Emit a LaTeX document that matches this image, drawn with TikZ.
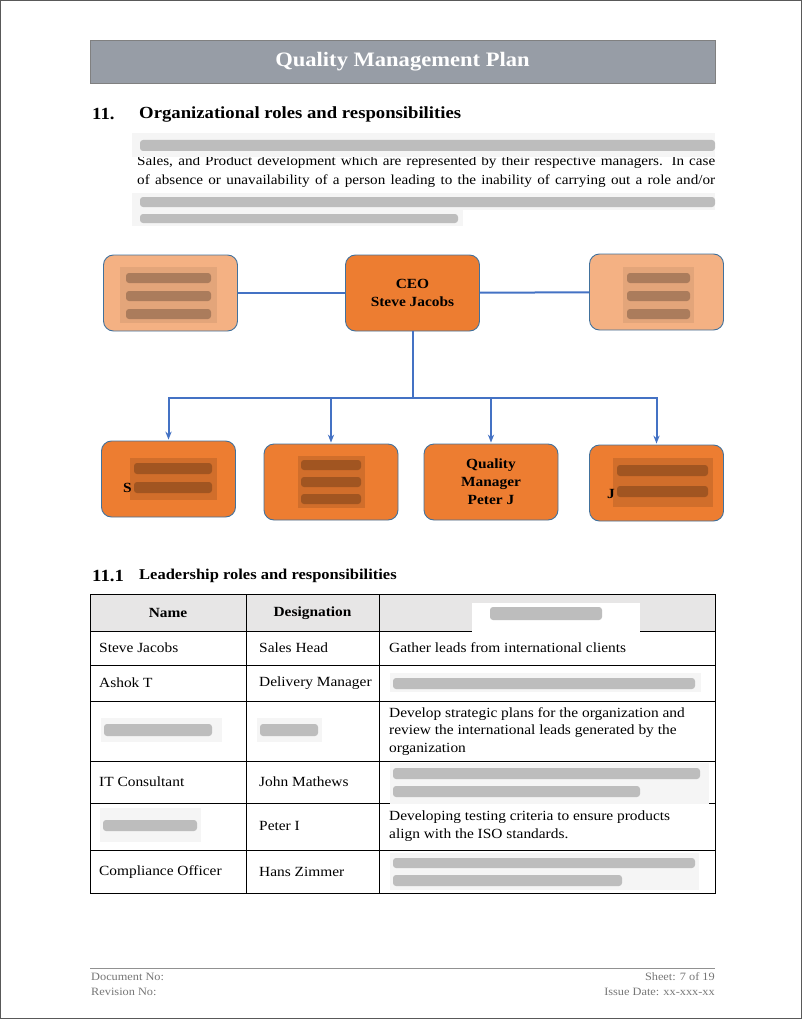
\documentclass[tikz,border=0pt]{standalone}
\usepackage{fontspec}
\setmainfont{Liberation Serif}[FakeStretch=1.1]
\usetikzlibrary{arrows.meta,positioning,calc}
\definecolor{bandgray}{RGB}{151,157,166}
\definecolor{bandedge}{RGB}{128,128,128}
\definecolor{ordark}{RGB}{237,125,49}
\definecolor{orlight}{RGB}{244,177,131}
\definecolor{boxedge}{RGB}{65,113,156}
\definecolor{linkblue}{RGB}{68,114,196}
\definecolor{thgray}{RGB}{231,230,230}
\definecolor{footgray}{RGB}{118,118,118}

\begin{document}
\begin{tikzpicture}[x=1pt, y=-1pt,
  orgbox/.style={draw=boxedge, line width=0.9pt, rounded corners=10pt, fill=#1,
                 minimum width=134pt, minimum height=76pt, align=center,
                 font=\bfseries\fontsize{14}{18}\selectfont},
  link/.style={draw=linkblue, line width=2pt},
  arr/.style={link, -{Stealth[length=2.8mm, width=2.2mm]}},
  body/.style={anchor=west, inner sep=0pt, font=\fontsize{13.8}{17}\selectfont},
  cell/.style={anchor=west, inner sep=0pt, align=left, font=\fontsize{14}{17.5}\selectfont},
  head/.style={inner sep=0pt, font=\bfseries\fontsize{14}{16}\selectfont},
  sec/.style={anchor=west, inner sep=0pt, font=\bfseries\fontsize{17}{20}\selectfont},
  foot/.style={inner sep=0pt, text=footgray, font=\fontsize{11.2}{13}\selectfont},
  blurbg/.style={fill=black!4},
  blurline/.style={fill=black!26, rounded corners=3pt},
  blurdk/.style={fill=ordark!88!black},
  blurdkline/.style={fill=ordark!55!black, rounded corners=3pt, opacity=0.6},
  blurlt/.style={fill=orlight!93!black},
  blurltline/.style={fill=orlight!55!black, rounded corners=3pt, opacity=0.6}]
\useasboundingbox (0,0) rectangle (802,1019);
\draw[black!65, line width=0.8pt] (0.5,0.5) rectangle (801.5,1018.5);

\node[draw=bandedge, fill=bandgray, minimum width=625pt, minimum height=43pt, text=white,
      font=\bfseries\fontsize{20.5}{24}\selectfont] (band) at (402.5,61.5) {Quality Management Plan};

\node[sec] (secnum) at (92,114) {11.};
\node[sec] (sectitle) at (139,114) {Organizational roles and responsibilities};
\node[body] (parb) at (137,162) {\makebox[578pt][s]{Sales, and Product development which are represented by their respective managers. In case}};
\node[body] (parc) at (137,181) {\makebox[578pt][s]{of absence or unavailability of a person leading to the inability of carrying out a role and/or}};
\fill[blurbg] (132,133) rectangle (715,157);
\fill[blurline] (140,140) rectangle (715,151);
\fill[blurbg] (132,193) rectangle (715,210);
\fill[blurbg] (132,210) rectangle (463,226);
\fill[blurline] (140,197) rectangle (715,207);
\fill[blurline] (140,214) rectangle (458,223);

\node[orgbox=orlight] (comp) at (170.5,293) {};
\node[orgbox=ordark] (ceo) at (412.5,293) {CEO\\Steve Jacobs};
\node[orgbox=orlight] (md) at (656.5,292) {};
\node[orgbox=ordark] (sales) at (168.5,479) {};
\node[orgbox=ordark] (deliv) at (331,482) {};
\node[orgbox=ordark] (qm) at (491,482) {Quality\\Manager\\Peter J};
\node[orgbox=ordark] (itc) at (656.5,483) {};

\fill[blurlt] (120,267) rectangle (217,323);
\foreach \y in {273,291,309} \fill[blurltline] (126,\y) rectangle (211,\y+10);
\fill[blurlt] (623,267) rectangle (694,323);
\foreach \y in {273,291,309} \fill[blurltline] (627,\y) rectangle (690,\y+10);
\fill[blurdk] (130,458) rectangle (217,500);
\foreach \y in {463,482} \fill[blurdkline] (134,\y) rectangle (212,\y+11);
\node[anchor=west, inner sep=0pt, font=\bfseries\fontsize{14}{17}\selectfont] (salesS) at (123,488) {S};
\fill[blurdk] (298,456) rectangle (365,508);
\foreach \y in {460,477,494} \fill[blurdkline] (301,\y) rectangle (361,\y+10);
\fill[blurdk] (613,458) rectangle (713,507);
\foreach \y in {465,486} \fill[blurdkline] (617,\y) rectangle (708,\y+11);
\node[anchor=west, inner sep=0pt, font=\bfseries\fontsize{14}{17}\selectfont] (itcJ) at (607,494) {J};

\draw[link] (comp) -- (ceo);
\draw[link] (ceo) -- (md);
\coordinate (bus) at ($(ceo.south)+(0,67)$);
\draw[link] (ceo.south) -- (bus);
\draw[link, line cap=rect] (sales.north |- bus) -- (itc.north |- bus);
\foreach \n in {sales,deliv,qm,itc}
  \draw[arr] (\n.north |- bus) -- ($(\n.north)+(0,-1)$);

\node[sec] (subnum) at (92,576) {11.1};
\node[sec, font=\bfseries\fontsize{15}{18}\selectfont] (subtitle) at (139,576) {Leadership roles and responsibilities};

\fill[thgray] (90,594) rectangle (715,631);
\foreach \y in {631,665,701,761,803,850} \draw[line width=0.7pt] (90,\y) -- (715,\y);
\draw[line width=0.7pt] (246,594) -- (246,893) (379,594) -- (379,893);
\draw[line width=0.9pt] (90,594) rectangle (715,893);

\node[head] (thname) at (168,613) {Name};
\node[head] (thdesig) at (312.5,613) {Designation};
\node[cell] (na) at (99,648) {Steve Jacobs};
\node[cell] (da) at (259,648) {Sales Head};
\node[cell] (ra) at (389,648) {Gather leads from international clients};
\node[cell] (nb) at (99,683) {Ashok T};
\node[cell] (db) at (259,683) {Delivery Manager};
\node[cell] (rc) at (389,731.5) {Develop strategic plans for the organization and\\review the international leads generated by the\\organization};
\node[cell] (nd) at (99,782) {IT Consultant};
\node[cell] (dd) at (259,782) {John Mathews};
\node[cell] (de) at (259,826) {Peter I};
\node[cell] (re) at (389,826) {Developing testing criteria to ensure products\\align with the ISO standards.};
\node[cell] (nf) at (99,872) {Compliance Officer};
\node[cell] (df) at (259,872) {Hans Zimmer};

\fill[white] (472,603) rectangle (640,632.5);
\fill[blurline] (490,607) rectangle (602,620);
\fill[blurbg] (390,673) rectangle (701,692);
\fill[blurline] (393,678) rectangle (695,689);
\fill[blurbg] (101,718) rectangle (222,742);
\fill[blurline] (104,724) rectangle (212,736);
\fill[blurbg] (257,718) rectangle (322,742);
\fill[blurline] (260,724) rectangle (318,736);
\fill[blurbg] (390,763) rectangle (709,804);
\fill[blurline] (393,768) rectangle (700,779);
\fill[blurline] (393,786) rectangle (640,797);
\fill[blurbg] (100,808) rectangle (201,842);
\fill[blurline] (103,820) rectangle (197,831);
\fill[blurbg] (390,853) rectangle (699,890);
\fill[blurline] (393,858) rectangle (695,868);
\fill[blurline] (393,875) rectangle (622,886);

\draw[footgray!80, line width=0.6pt] (90,968) -- (715,968);
\node[foot, anchor=west] (docno) at (91,977) {Document No:};
\node[foot, anchor=west] (revno) at (91,992) {Revision No:};
\node[foot, anchor=east] (sheet) at (715,977) {Sheet: 7 of 19};
\node[foot, anchor=east] (issue) at (715,992) {Issue Date: xx-xxx-xx};
\end{tikzpicture}
\end{document}
